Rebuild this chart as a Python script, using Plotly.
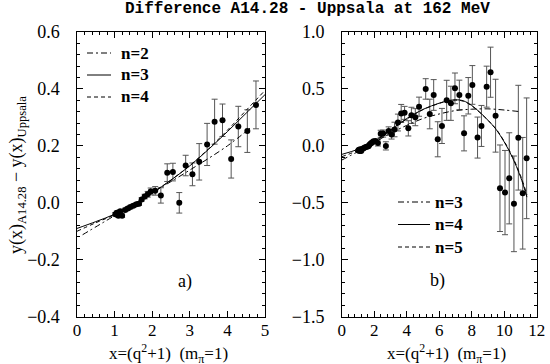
import plotly.graph_objects as go

# ---------------- data ----------------
x_data = [1.02, 1.06, 1.10, 1.15, 1.20, 1.28, 1.35, 1.42, 1.50, 1.58, 1.65, 1.72, 1.80,
          1.88, 1.96, 2.08, 2.23, 2.40, 2.55, 2.72, 2.89, 3.07, 3.25, 3.46, 3.66, 3.87,
          4.10, 4.29, 4.53, 4.76, 5.17, 5.42, 5.66, 5.91, 6.17, 6.46, 6.72, 6.97, 7.24,
          7.53, 7.79, 8.04, 8.36, 8.60, 8.92, 9.16, 9.47, 9.74, 10.05, 10.31, 10.60,
          10.87, 11.14, 11.38]
y_data = [-0.040, -0.035, -0.045, -0.030, -0.045, -0.025, -0.020, -0.015, -0.010, -0.005,
          -0.003, 0.012, 0.022, 0.030, 0.040, 0.042, 0.026, 0.106, 0.108, 0.000, 0.131,
          0.100, 0.144, 0.205, 0.285, 0.290, 0.154, 0.268, 0.252, 0.344, 0.500, 0.280,
          0.447, 0.058, 0.175, 0.400, 0.374, 0.505, 0.447, 0.110, 0.440, 0.535, 0.073,
          0.175, 0.520, 0.647, 0.265, -0.372, -0.410, -0.285, -0.509, 0.072, -0.416, -0.109]
y_err = [0.006, 0.006, 0.006, 0.006, 0.006, 0.006, 0.006, 0.006, 0.006, 0.006, 0.006,
         0.006, 0.008, 0.010, 0.012, 0.015, 0.027, 0.031, 0.031, 0.036, 0.036, 0.040,
         0.064, 0.074, 0.079, 0.057, 0.067, 0.071, 0.075, 0.084, 0.090, 0.130, 0.135,
         0.154, 0.154, 0.176, 0.150, 0.135, 0.130, 0.154, 0.160, 0.170, 0.180, 0.180,
         0.180, 0.220, 0.320, 0.380, 0.370, 0.400, 0.420, 0.460, 0.490, 0.530]

# panel a) fit curves
a_n2_x = [0.15, 1.0, 2.0, 3.0, 4.0, 4.6]
a_n2_y = [-0.112, -0.045, 0.035, 0.115, 0.200, 0.262]
a_n3_x = [0.0, 0.5, 1.0, 1.5, 2.0, 2.5, 3.0, 3.5, 4.0, 4.5, 5.0]
a_n3_y = [-0.090, -0.066, -0.040, -0.005, 0.035, 0.080, 0.130, 0.188, 0.250, 0.315, 0.380]
a_n4_x = [0.0, 0.5, 1.0, 1.5, 2.0, 2.5, 3.0, 3.5, 4.0, 4.5, 5.0]
a_n4_y = [-0.100, -0.070, -0.042, -0.006, 0.035, 0.080, 0.131, 0.190, 0.255, 0.325, 0.395]

# panel b) fit curves
b_n3_x = [0.0, 1.0, 2.0, 3.0, 4.0, 5.0, 6.0, 7.0, 8.0, 9.0, 10.0, 11.0]
b_n3_y = [-0.125, -0.050, 0.030, 0.110, 0.180, 0.240, 0.280, 0.310, 0.322, 0.325, 0.315, 0.300]
b_n4_x = [0.0, 1.0, 2.0, 3.0, 4.0, 5.0, 6.0, 6.5, 7.0, 7.5, 8.0, 8.5, 9.0, 9.5, 10.0,
          10.5, 11.0, 11.4]
b_n4_y = [-0.075, -0.030, 0.040, 0.140, 0.240, 0.320, 0.375, 0.395, 0.405, 0.395, 0.355,
          0.295, 0.225, 0.145, 0.035, -0.100, -0.270, -0.450]
b_n5_x = [0.0, 1.0, 2.0, 3.0, 4.0, 5.0, 6.0, 6.5, 7.0, 7.5, 8.0, 8.5, 9.0, 9.5, 10.0,
          10.5, 11.0, 11.4]
b_n5_y = [-0.095, -0.040, 0.035, 0.135, 0.235, 0.318, 0.373, 0.393, 0.402, 0.392, 0.352,
          0.293, 0.225, 0.148, 0.040, -0.092, -0.258, -0.430]

title_text = "Difference A14.28 - Uppsala at 162 MeV"
legend_a = ["n=2", "n=3", "n=4"]
legend_b = ["n=3", "n=4", "n=5"]
dash_styles = ["6px,3px,2px,3px", "solid", "4px,3px"]

# ---------------- figure ----------------
W, H = 550, 364
def px(v):
    return v / W
def py(v):
    return 1 - v / H

SERIF = "Liberation Serif, Times New Roman, DejaVu Serif, serif"
fig = go.Figure()

left = [i for i, v in enumerate(x_data) if v <= 5]
err_style = dict(type="data", color="#555555", thickness=1, width=3)

fig.add_trace(go.Scatter(
    x=[x_data[i] for i in left], y=[y_data[i] for i in left],
    error_y=dict(array=[y_err[i] for i in left], **err_style),
    mode="markers", marker=dict(color="black", size=6),
    xaxis="x", yaxis="y", showlegend=False))
fig.add_trace(go.Scatter(
    x=x_data, y=y_data, error_y=dict(array=y_err, **err_style),
    mode="markers", marker=dict(color="black", size=6),
    xaxis="x2", yaxis="y2", showlegend=False))

for xs, ys, d in [(a_n2_x, a_n2_y, dash_styles[0]), (a_n3_x, a_n3_y, dash_styles[1]),
                  (a_n4_x, a_n4_y, dash_styles[2])]:
    fig.add_trace(go.Scatter(x=xs, y=ys, mode="lines", line=dict(color="black", width=1, dash=d, shape="spline"),
                             xaxis="x", yaxis="y", showlegend=False))
for xs, ys, d in [(b_n3_x, b_n3_y, dash_styles[0]), (b_n4_x, b_n4_y, dash_styles[1]),
                  (b_n5_x, b_n5_y, dash_styles[2])]:
    fig.add_trace(go.Scatter(x=xs, y=ys, mode="lines", line=dict(color="black", width=1, dash=d, shape="spline"),
                             xaxis="x2", yaxis="y2", showlegend=False))

ax_common = dict(showline=True, linecolor="black", linewidth=1, mirror="ticks",
                 ticks="inside", ticklen=6, tickcolor="black", tickwidth=1,
                 showgrid=False, zeroline=False, automargin=False)
yfont = dict(family=SERIF, size=18, color="black")
xfont = dict(family=SERIF, size=17, color="black")
ysuffix = "\u2002\u2009"

fig.update_layout(
    width=W, height=H, autosize=False,
    margin=dict(l=0, r=0, t=0, b=0, pad=0, autoexpand=False),
    paper_bgcolor="white", plot_bgcolor="white",
    xaxis=dict(domain=[px(77), px(265)], range=[0, 5], tick0=0, dtick=1, anchor="y",
               minor=dict(dtick=0.2, ticks="inside", ticklen=3, tickcolor="black"),
               ticklabelstandoff=-2, tickfont=xfont, **ax_common),
    yaxis=dict(domain=[py(316.7), py(32)], range=[-0.4, 0.6], tick0=0, dtick=0.2,
               tickformat=".1f", ticksuffix=ysuffix, anchor="x",
               minor=dict(dtick=0.04, ticks="inside", ticklen=3, tickcolor="black"),
               tickfont=yfont, **ax_common),
    xaxis2=dict(domain=[px(341.7), px(536.7)], range=[0, 12], tick0=0, dtick=2, anchor="y2",
                minor=dict(dtick=0.4, ticks="inside", ticklen=3, tickcolor="black"),
                ticklabelstandoff=-2, tickfont=xfont, **ax_common),
    yaxis2=dict(domain=[py(316.7), py(32)], range=[-1.5, 1.0], tick0=0, dtick=0.5,
                tickformat=".1f", ticksuffix=ysuffix, anchor="x2",
                minor=dict(dtick=0.1, ticks="inside", ticklen=3, tickcolor="black"),
                tickfont=yfont, **ax_common),
)

ann = []
shapes = []
# title
ann.append(dict(text="<b>" + title_text + "</b>", x=px(307), y=py(9), xref="paper", yref="paper",
                showarrow=False, font=dict(family="Liberation Mono, DejaVu Sans Mono, monospace", size=16, color="black"),
                xanchor="center", yanchor="middle"))
# y axis label
ann.append(dict(text="y(x)<sub>A14.28</sub> \u2212 y(x)<sub>Uppsala</sub>", x=px(17), y=py(175),
                xref="paper", yref="paper", textangle=-90, showarrow=False,
                font=dict(family=SERIF, size=18, color="black"),
                xanchor="center", yanchor="middle"))
# x axis labels
for cx in (168, 446):
    ann.append(dict(text="x=(q<sup>2</sup>+1)  (m<sub>\u03c0</sub>=1)", x=px(cx), y=py(353),
                    xref="paper", yref="paper", showarrow=False,
                    font=dict(family=SERIF, size=17, color="black"),
                    xanchor="center", yanchor="middle"))
# panel labels
ann.append(dict(text="a)", x=px(176), y=py(294), xref="paper", yref="paper", showarrow=False,
                font=dict(family=SERIF, size=18, color="black")))
ann.append(dict(text="b)", x=px(447), y=py(293), xref="paper", yref="paper", showarrow=False,
                font=dict(family=SERIF, size=18, color="black")))

# legends
for i, lab in enumerate(legend_a):
    yy = 53 + i * 22
    shapes.append(dict(type="line", xref="paper", yref="paper", x0=px(87), x1=px(111),
                       y0=py(yy), y1=py(yy), line=dict(color="black", width=1, dash=dash_styles[i])))
    ann.append(dict(text="<b>" + lab + "</b>", x=px(119), y=py(yy), xref="paper", yref="paper", showarrow=False,
                    xanchor="left", yanchor="middle", font=dict(family=SERIF, size=17, color="black")))
for i, lab in enumerate(legend_b):
    yy = 202 + i * 22.5
    shapes.append(dict(type="line", xref="paper", yref="paper", x0=px(398), x1=px(430),
                       y0=py(yy), y1=py(yy), line=dict(color="black", width=1, dash=dash_styles[i])))
    ann.append(dict(text="<b>" + lab + "</b>", x=px(433), y=py(yy), xref="paper", yref="paper", showarrow=False,
                    xanchor="left", yanchor="middle", font=dict(family=SERIF, size=17, color="black")))

fig.update_layout(annotations=ann, shapes=shapes)
fig.write_html("out.html", config={"displayModeBar": False},
               post_script="document.body.style.margin='0';document.body.style.overflow='hidden';")
